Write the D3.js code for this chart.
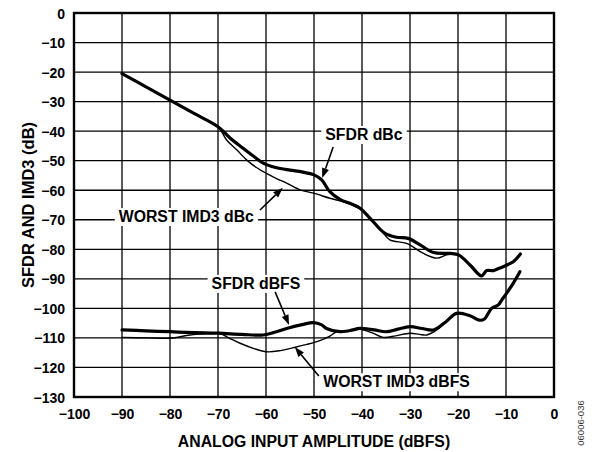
<!DOCTYPE html>
<html>
<head>
<meta charset="utf-8">
<script src="https://cdn.jsdelivr.net/npm/d3@7/dist/d3.min.js"></script>
<style>
  html, body { margin: 0; padding: 0; background: #fff; }
  svg { display: block; }
  text { font-family: "Liberation Sans", Arial, Helvetica, sans-serif; font-weight: bold; fill: #000; }
</style>
</head>
<body>
<svg id="chart" width="594" height="452"></svg>
<script>
// Axis ticks
const xTicks = [-100, -90, -80, -70, -60, -50, -40, -30, -20, -10, 0];
const yTicks = [0, -10, -20, -30, -40, -50, -60, -70, -80, -90, -100, -110, -120, -130];

// SFDR, dBc (thick)
const sfdrDbcX = [-90, -85, -80, -75, -70, -67.5, -65, -62.5, -60.5, -58, -55, -52.5, -50, -48.4, -46.7, -44.6, -42, -40.4, -38.3, -35.2, -32.8, -30.4, -27.9, -25.1, -21.7, -19.9, -17.5, -15.1, -14, -12.6, -11.4, -10.6, -8.5, -7];
const sfdrDbcY = [-20.5, -25, -29.5, -34, -38.5, -42.3, -45.5, -48.6, -50.9, -52.3, -53.2, -53.8, -54.8, -56.5, -60.5, -63.1, -64.8, -66.1, -69.5, -74.6, -75.9, -76.3, -78.5, -81.1, -81.4, -81.9, -85.3, -89, -87.2, -87.2, -86.4, -85.9, -84.2, -81.6];

// Worst IMD3, dBc (thin)
const imd3DbcX = [-90, -85, -80, -75, -70, -68.2, -66, -64, -62, -59.9, -57.5, -55.7, -52.9, -50.1, -46.7, -44.6, -42, -40.4, -38.3, -36, -34.2, -30.7, -27.2, -24.4, -22.4, -21, -19.9, -17.5, -15.1, -14, -12.6, -11.4, -10.6, -8.5, -7];
const imd3DbcY = [-20.5, -25, -29.5, -34, -38.5, -43, -46.5, -49.8, -52.3, -54.3, -56.3, -57.6, -59.9, -61, -62.7, -63.6, -65, -66.3, -69.8, -73.6, -76.8, -78, -81.4, -83, -81.9, -81.6, -81.9, -85.3, -89, -87.2, -87.2, -86.4, -85.9, -84.2, -81.6];

// SFDR, dBFS (thick)
const sfdrDbfsX = [-90, -85, -80, -75, -70, -65, -60.6, -58, -55.7, -52.5, -50.1, -48.5, -47.4, -44.6, -42.5, -40.4, -37.5, -34.9, -32.5, -30, -27.5, -25.1, -22.5, -20.3, -17.5, -15.5, -14.5, -13, -11.6, -10.9, -9.9, -8.5, -7.1];
const sfdrDbfsY = [-107.3, -107.6, -107.9, -108.2, -108.4, -108.8, -109, -108, -106.8, -105.5, -104.8, -105.5, -106.8, -107.9, -107.5, -106.8, -107.3, -107.9, -107, -106.2, -106.8, -107.3, -104.5, -101.7, -102.5, -104, -103.6, -100, -98.8, -97.2, -94.9, -91.5, -87.6];

// Worst IMD3, dBFS (thin)
const imd3DbfsX = [-90, -85, -80, -75.8, -72, -69.6, -67.5, -65.4, -62.5, -59.9, -57, -54.3, -51.5, -48.8, -46.5, -45.3, -42.5, -40.4, -38, -35.6, -33, -30, -28, -26.5, -24.4, -22.5, -20.3, -17.5, -15.5, -14.5, -13, -11.6, -10.9, -9.9, -8.5, -7.1];
const imd3DbfsY = [-109.8, -110, -110.1, -109, -108.6, -108.5, -110.2, -111.8, -113.6, -114.7, -114.3, -113.3, -112.2, -110.9, -109.2, -107.9, -107.6, -107.1, -108.2, -109.8, -109.3, -108.4, -108.8, -109, -107.3, -104.5, -101.7, -102.5, -104, -103.6, -100, -98.8, -97.2, -94.9, -91.5, -87.6];

// Callout labels: text, label anchor (x, baseline y), arrow tail and head
const labelNames = ["SFDR dBc", "WORST IMD3 dBc", "SFDR dBFS", "WORST IMD3 dBFS"];
const labelX = [-39.6, -76.6, -62.1, -32.8];
const labelY = [-43.0, -70.75, -93.4, -126.7];
const arrowFromX = [-46.0, -61.25, -58.1, -49.0];
const arrowFromY = [-45.4, -66.7, -94.4, -122.9];
const arrowToX = [-48.3, -56.5, -55.2, -54.0];
const arrowToY = [-55.9, -59.2, -105.6, -113.1];

const svg = d3.select("#chart");
const plotLeft = 74, plotRight = 554, plotTop = 13, plotBottom = 397;
const x = d3.scaleLinear().domain([-100, 0]).range([plotLeft, plotRight]);
const y = d3.scaleLinear().domain([-130, 0]).range([plotBottom, plotTop]);

// grid
const grid = svg.append("g").attr("stroke", "#000").attr("stroke-width", 1.3);
grid.selectAll("line.v").data(xTicks.slice(1, -1)).join("line").attr("class", "v")
  .attr("x1", d => x(d)).attr("x2", d => x(d)).attr("y1", plotTop).attr("y2", plotBottom);
grid.selectAll("line.h").data(yTicks.slice(1, -1)).join("line").attr("class", "h")
  .attr("x1", plotLeft).attr("x2", plotRight).attr("y1", d => y(d)).attr("y2", d => y(d));

// frame
svg.append("rect").attr("x", plotLeft).attr("y", plotTop)
  .attr("width", plotRight - plotLeft).attr("height", plotBottom - plotTop)
  .attr("fill", "none").attr("stroke", "#000").attr("stroke-width", 2.4);

// axes (labels only; the frame and grid are drawn above)
const fmt = d => d < 0 ? "\u2212" + Math.abs(d) : String(d);
const xAxis = d3.axisBottom(x).tickValues(xTicks).tickFormat(fmt).tickSize(0).tickPadding(0);
const gx = svg.append("g").attr("transform", `translate(0,${plotBottom})`).call(xAxis);
gx.select(".domain").remove();
gx.selectAll("text").attr("y", 22).attr("dy", 0).style("font-size", "14px")
  .style("font-family", "'Liberation Sans', Arial, sans-serif").style("font-weight", "bold").attr("fill", "#000");

const yAxis = d3.axisLeft(y).tickValues(yTicks).tickFormat(fmt).tickSize(0).tickPadding(9);
const gy = svg.append("g").attr("transform", `translate(${plotLeft},0)`).call(yAxis);
gy.select(".domain").remove();
gy.selectAll("text").attr("dy", "0.36em").style("font-size", "14px")
  .style("font-family", "'Liberation Sans', Arial, sans-serif").style("font-weight", "bold").attr("fill", "#000");

// curves
const line = d3.line().x(d => x(d[0])).y(d => y(d[1])).curve(d3.curveCatmullRom.alpha(0.5));
const series = [
  { xs: imd3DbcX, ys: imd3DbcY, w: 1.4 },
  { xs: imd3DbfsX, ys: imd3DbfsY, w: 1.4 },
  { xs: sfdrDbcX, ys: sfdrDbcY, w: 3.2 },
  { xs: sfdrDbfsX, ys: sfdrDbfsY, w: 3.2 }
];
svg.append("g").selectAll("path").data(series).join("path")
  .attr("d", s => line(s.xs.map((v, i) => [v, s.ys[i]])))
  .attr("fill", "none").attr("stroke", "#000").attr("stroke-width", s => s.w)
  .attr("stroke-linejoin", "round").attr("stroke-linecap", "round");

// callouts
const callouts = svg.append("g");
labelNames.forEach((name, i) => {
  const t = callouts.append("text").attr("x", x(labelX[i])).attr("y", y(labelY[i]))
    .attr("text-anchor", "middle").style("font-size", "15.8px").text(name);
  const bb = t.node().getBBox();
  callouts.insert("rect", () => t.node())
    .attr("x", bb.x - 4).attr("y", bb.y).attr("width", bb.width + 8).attr("height", bb.height + 1)
    .attr("fill", "#fff");
  const x1 = x(arrowFromX[i]), y1 = y(arrowFromY[i]), x2 = x(arrowToX[i]), y2 = y(arrowToY[i]);
  const ang = Math.atan2(y2 - y1, x2 - x1), len = 10, half = 3.6;
  const bx = x2 - len * Math.cos(ang), by = y2 - len * Math.sin(ang);
  callouts.append("line").attr("x1", x1).attr("y1", y1).attr("x2", bx).attr("y2", by)
    .attr("stroke", "#000").attr("stroke-width", 1.6);
  callouts.append("path")
    .attr("d", `M${x2},${y2}L${bx + half * Math.sin(ang)},${by - half * Math.cos(ang)}L${bx - half * Math.sin(ang)},${by + half * Math.cos(ang)}Z`)
    .attr("fill", "#000");
});

// axis titles
svg.append("text").attr("x", (plotLeft + plotRight) / 2).attr("y", 447).attr("text-anchor", "middle")
  .style("font-size", "15.8px").text("ANALOG INPUT AMPLITUDE (dBFS)");
svg.append("text").attr("transform", `translate(34,${(plotTop + plotBottom) / 2}) rotate(-90)`)
  .attr("text-anchor", "middle").style("font-size", "16.5px").text("SFDR AND IMD3 (dB)");

// figure code
svg.append("text").attr("transform", "translate(584,423) rotate(-90)").attr("text-anchor", "middle")
  .style("font-size", "9.5px").style("font-weight", "normal").style("fill", "#333").text("06006-036");
</script>
</body>
</html>
